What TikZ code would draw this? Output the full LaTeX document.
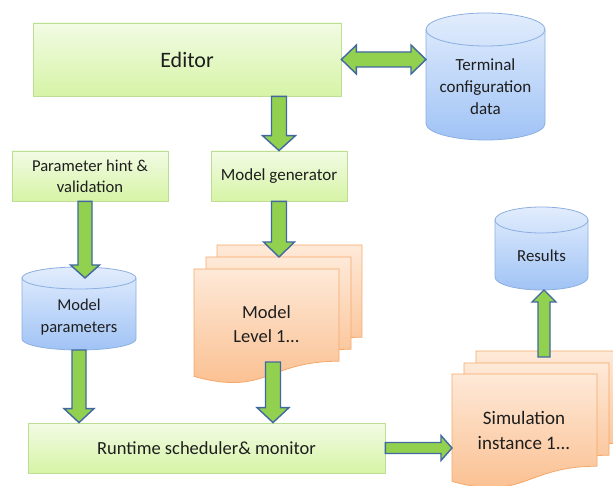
\documentclass[tikz,border=0pt]{standalone}
\usepackage{fontspec}
\setmainfont{Carlito}
\usetikzlibrary{calc}
\definecolor{arrowfill}{RGB}{146,208,80}
\definecolor{arrowline}{RGB}{65,105,160}
\definecolor{gtop}{RGB}{242,251,228}
\definecolor{gbot}{RGB}{214,244,166}
\definecolor{gline}{RGB}{190,222,150}
\definecolor{ctop}{RGB}{226,237,253}
\definecolor{cbot}{RGB}{160,195,245}
\definecolor{cline}{RGB}{140,175,225}
\definecolor{dtop}{RGB}{254,233,216}
\definecolor{dbot}{RGB}{250,188,138}
\definecolor{dline}{RGB}{246,168,105}
\definecolor{txt}{RGB}{30,30,30}
\tikzset{
  gbox/.style={draw=gline, line width=0.8pt, top color=gtop, bottom color=gbot, inner sep=0pt, align=center, text=txt},
  cylbody/.style={draw=cline, line width=0.8pt, top color=ctop, bottom color=cbot},
  cyledge/.style={draw=cline, line width=0.8pt},
  docbody/.style={draw=dline, line width=0.8pt, top color=dtop, bottom color=dbot},
  barrow/.style={draw=arrowline, line width=1.4pt, fill=arrowfill, line join=miter},
  lbl/.style={align=center, text=txt, inner sep=0pt},
  hidden/.style={inner sep=0pt, outer sep=0pt, draw=none}
}
% cylinder: name, cx, top, bottom, rx, ry, text y, font size, text
\newcommand\drawcyl[9]{%
  \pgfmathsetmacro\cylL{#2-#5}\pgfmathsetmacro\cylR{#2+#5}%
  \pgfmathsetmacro\cylT{#3+#6}\pgfmathsetmacro\cylB{#4-#6}%
  \pgfmathsetmacro\cylKx{0.5523*#5}\pgfmathsetmacro\cylKy{0.5523*#6}%
  \pgfmathsetmacro\cylW{2*#5}\pgfmathsetmacro\cylH{#4-#3}\pgfmathsetmacro\cylM{(#3+#4)/2}%
  \pgfmathsetmacro\cylF{#8*1.3}%
  \path[cylbody] (\cylL,\cylT) -- (\cylL,\cylB)
    .. controls (\cylL,\cylB+\cylKy) and (#2-\cylKx,#4) .. (#2,#4)
    .. controls (#2+\cylKx,#4) and (\cylR,\cylB+\cylKy) .. (\cylR,\cylB)
    -- (\cylR,\cylT)
    .. controls (\cylR,\cylT-\cylKy) and (#2+\cylKx,#3) .. (#2,#3)
    .. controls (#2-\cylKx,#3) and (\cylL,\cylT-\cylKy) .. (\cylL,\cylT) -- cycle;
  \draw[cyledge] (\cylL,\cylT) .. controls (\cylL,\cylT+\cylKy) and (#2-\cylKx,\cylT+#6) .. (#2,\cylT+#6)
    .. controls (#2+\cylKx,\cylT+#6) and (\cylR,\cylT+\cylKy) .. (\cylR,\cylT);
  \node[hidden, minimum width=\cylW pt, minimum height=\cylH pt] (#1) at (#2,\cylM) {};
  \coordinate (#1-tc) at (#2,\cylT);
  \node[lbl, font=\fontsize{#8}{\cylF}\selectfont] (#1-text) at (#2,#7) {#9};
}
% document: name, x, y, w, h
\newcommand\drawdoc[5]{%
  \path[docbody] (#2,#3) -- (#2+#4,#3) -- (#2+#4,#3+0.802*#5)
    .. controls (#2+0.5*#4,#3+0.802*#5) and (#2+0.5*#4,#3+1.108*#5) .. (#2,#3+0.934*#5) -- cycle;
  \node[hidden, minimum width=#4 pt, minimum height=#5 pt] (#1) at (#2+0.5*#4,#3+0.5*#5) {};
}
% single block arrow: from, to, half shaft, half head, head length
\newcommand\blockS[5]{%
  \coordinate (bH) at ($(#2)!#5pt!(#1)$);
  \draw[barrow] ($(#1)!#3pt!90:(#2)$) -- ($(bH)!#3pt!-90:(#1)$) -- ($(bH)!#4pt!-90:(#1)$) -- (#2)
    -- ($(bH)!#4pt!90:(#1)$) -- ($(bH)!#3pt!90:(#1)$) -- ($(#1)!#3pt!-90:(#2)$) -- cycle;
}
% double block arrow
\newcommand\blockD[5]{%
  \coordinate (bHa) at ($(#1)!#5pt!(#2)$);
  \coordinate (bHb) at ($(#2)!#5pt!(#1)$);
  \draw[barrow] (#1) -- ($(bHa)!#4pt!90:(#2)$) -- ($(bHa)!#3pt!90:(#2)$) -- ($(bHb)!#3pt!-90:(#1)$)
    -- ($(bHb)!#4pt!-90:(#1)$) -- (#2) -- ($(bHb)!#4pt!90:(#1)$) -- ($(bHb)!#3pt!90:(#1)$)
    -- ($(bHa)!#3pt!-90:(#2)$) -- ($(bHa)!#4pt!-90:(#2)$) -- cycle;
}
\begin{document}
\begin{tikzpicture}[x=1pt,y=-1pt]
\useasboundingbox (0,0) rectangle (613,486);
\clip (0,0) rectangle (613,486);
\fill[white] (0,0) rectangle (613,486);

% boxes
\node[gbox, minimum width=308pt, minimum height=73pt, font=\fontsize{22}{26}\selectfont] (editor) at (187,59.5) {Editor};
\node[gbox, minimum width=156pt, minimum height=50pt, font=\fontsize{16.6}{21}\selectfont] (param) at (90,176) {Parameter hint \&\\validation};
\node[gbox, minimum width=136pt, minimum height=50pt, font=\fontsize{17}{21}\selectfont] (mg) at (279,176) {Model generator};
\node[gbox, minimum width=357pt, minimum height=50pt, font=\fontsize{18.5}{22}\selectfont] (runtime) at (206.5,448) {Runtime scheduler\& monitor};

% cylinders
\drawcyl{terminal}{485.5}{13}{140}{59.5}{16.5}{86.5}{17}{Terminal\\configuration\\data}
\drawcyl{mp}{79}{267}{350}{57}{11}{317}{16.5}{Model\\parameters}
\drawcyl{results}{541.5}{207}{290}{46.5}{13}{256}{16.8}{Results}

% model documents
\drawdoc{mdoc1}{217}{245}{145}{115}
\drawdoc{mdoc2}{206}{257}{145}{115}
\drawdoc{mdoc3}{194}{269}{145}{115}
\node[lbl, font=\fontsize{18.5}{24}\selectfont] (mtext) at (266.5,324) {Model\\Level 1...};

% simulation documents
\drawdoc{sdoc1}{476}{351}{145}{115}
\drawdoc{sdoc2}{464}{363}{145}{115}
\drawdoc{sdoc3}{452}{374}{145}{115}
\node[lbl, font=\fontsize{19}{25}\selectfont] (stext) at (524,430.5) {Simulation\\instance 1...};

% arrows
\coordinate (a1e) at (editor.east -| terminal.west);
\blockD{editor.east}{a1e}{7.5}{14.5}{15}

\coordinate (a2s) at (mg.north |- editor.south);
\blockS{a2s}{mg.north}{7.5}{16.5}{15}

\coordinate (a3x) at (85,0);
\coordinate (a3s) at (a3x |- param.south);
\coordinate (a3e) at (a3x |- mp-tc);
\blockS{a3s}{a3e}{7}{14.5}{13}

\coordinate (a4e) at (mp.south |- runtime.north);
\blockS{mp.south}{a4e}{7}{15}{14}

\coordinate (a5e) at (mg.south |- mdoc2.north);
\blockS{mg.south}{a5e}{7.5}{15.5}{15}

\coordinate (a6s) at (273,362);
\coordinate (a6e) at (a6s |- runtime.north);
\blockS{a6s}{a6e}{7.5}{16}{15}

\coordinate (a7e) at (runtime.east -| sdoc3.west);
\blockS{runtime.east}{a7e}{5.5}{12.5}{11}

\coordinate (a8s) at (544,357);
\coordinate (a8e) at (a8s |- results.south);
\blockS{a8s}{a8e}{6}{12}{12}
\end{tikzpicture}
\end{document}
